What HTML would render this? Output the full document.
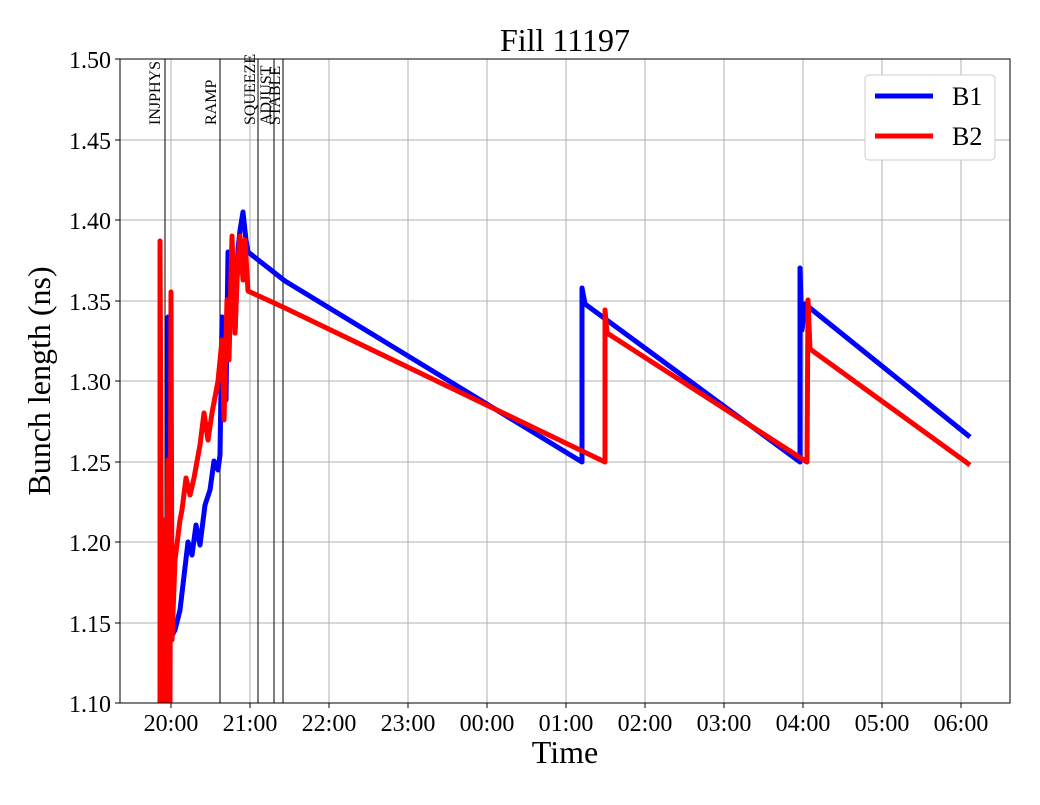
<!DOCTYPE html>
<html><head><style>body{margin:0;background:#fff}</style></head><body>
<svg width="1040" height="800" xmlns="http://www.w3.org/2000/svg" font-family="Liberation Serif, serif">
<rect width="1040" height="800" fill="#fff"/>
<g stroke="#b0b0b0" stroke-width="1">
<line x1="120" x2="1010" y1="140" y2="140"/><line x1="120" x2="1010" y1="220" y2="220"/><line x1="120" x2="1010" y1="301" y2="301"/><line x1="120" x2="1010" y1="381" y2="381"/><line x1="120" x2="1010" y1="462" y2="462"/><line x1="120" x2="1010" y1="542" y2="542"/><line x1="120" x2="1010" y1="623" y2="623"/>
<line x1="171" x2="171" y1="59" y2="703"/><line x1="250" x2="250" y1="59" y2="703"/><line x1="329" x2="329" y1="59" y2="703"/><line x1="408" x2="408" y1="59" y2="703"/><line x1="487" x2="487" y1="59" y2="703"/><line x1="566" x2="566" y1="59" y2="703"/><line x1="645" x2="645" y1="59" y2="703"/><line x1="724" x2="724" y1="59" y2="703"/><line x1="803" x2="803" y1="59" y2="703"/><line x1="882" x2="882" y1="59" y2="703"/><line x1="961" x2="961" y1="59" y2="703"/>
</g>
<g stroke="#000" stroke-width="1">
<line x1="165" x2="165" y1="59" y2="703"/><line x1="220" x2="220" y1="59" y2="703"/><line x1="258" x2="258" y1="59" y2="703"/><line x1="274" x2="274" y1="59" y2="703"/><line x1="283" x2="283" y1="59" y2="703"/>
</g>
<g font-size="16" fill="#000">
<text transform="translate(160,125) rotate(-90)">INJPHYS</text>
<text transform="translate(216,125) rotate(-90)">RAMP</text>
<text transform="translate(255,125) rotate(-90)">SQUEEZE</text>
<text transform="translate(271,125) rotate(-90)">ADJUST</text>
<text transform="translate(280,125) rotate(-90)">STABLE</text>
</g>
<svg x="120" y="59" width="890" height="644" viewBox="120 59 890 644" overflow="hidden">
<polyline fill="none" stroke="#00f" stroke-width="5" stroke-linejoin="round" points="167,703 168,317 169,703 170,639 175,630 180,610 188,542 192,555 196,525 200,545 205,505 210,490 214,461 218,470 220,455 222,317 224,330 226,400 228,252 231,300 233,260 235,333 238,250 240,230 243,212 246,240 248,252 285,281 582,462 582,288 585,304 800,462 800,268 802,330 805,304 970,437"/>
<polyline fill="none" stroke="#f00" stroke-width="5" stroke-linejoin="round" points="160,703 160,241 162,703 164,520 166,703 168,460 170,703 171,292 172,640 175,560 180,520 182,510 186,478 190,495 194,478 200,445 204,413 208,440 212,413 218,381 222,340 224,420 227,300 229,360 232,236 235,333 237,280 240,236 243,280 245,240 248,291 285,308 605,462 605,310 607,333 807,462 808,300 810,349 970,465"/>
</svg>
<rect x="120" y="59" width="890" height="644" fill="none" stroke="#000" stroke-width="1"/>
<g stroke="#000"><line x1="171" x2="171" y1="703" y2="708"/><line x1="250" x2="250" y1="703" y2="708"/><line x1="329" x2="329" y1="703" y2="708"/><line x1="408" x2="408" y1="703" y2="708"/><line x1="487" x2="487" y1="703" y2="708"/><line x1="566" x2="566" y1="703" y2="708"/><line x1="645" x2="645" y1="703" y2="708"/><line x1="724" x2="724" y1="703" y2="708"/><line x1="803" x2="803" y1="703" y2="708"/><line x1="882" x2="882" y1="703" y2="708"/><line x1="961" x2="961" y1="703" y2="708"/>
<line x1="115" x2="120" y1="59" y2="59"/><line x1="115" x2="120" y1="140" y2="140"/><line x1="115" x2="120" y1="220" y2="220"/><line x1="115" x2="120" y1="301" y2="301"/><line x1="115" x2="120" y1="381" y2="381"/><line x1="115" x2="120" y1="462" y2="462"/><line x1="115" x2="120" y1="542" y2="542"/><line x1="115" x2="120" y1="623" y2="623"/><line x1="115" x2="120" y1="703" y2="703"/></g>
<g font-size="24" text-anchor="end"><text x="111" y="68">1.50</text><text x="111" y="149">1.45</text><text x="111" y="229">1.40</text><text x="111" y="310">1.35</text><text x="111" y="390">1.30</text><text x="111" y="471">1.25</text><text x="111" y="551">1.20</text><text x="111" y="632">1.15</text><text x="111" y="712">1.10</text></g>
<g font-size="24" text-anchor="middle"><text x="171" y="731">20:00</text><text x="250" y="731">21:00</text><text x="329" y="731">22:00</text><text x="408" y="731">23:00</text><text x="487" y="731">00:00</text><text x="566" y="731">01:00</text><text x="645" y="731">02:00</text><text x="724" y="731">03:00</text><text x="803" y="731">04:00</text><text x="882" y="731">05:00</text><text x="961" y="731">06:00</text></g>
<text x="565" y="763" font-size="32" text-anchor="middle">Time</text>
<text transform="translate(50,381) rotate(-90)" font-size="32" text-anchor="middle">Bunch length (ns)</text>
<text x="565" y="51" font-size="32" text-anchor="middle">Fill 11197</text>
<rect x="865" y="75" width="130" height="85" rx="4" fill="#fff" stroke="#ccc"/>
<line x1="875" x2="933" y1="96" y2="96" stroke="#00f" stroke-width="5"/>
<line x1="875" x2="933" y1="136" y2="136" stroke="#f00" stroke-width="5"/>
<text x="952" y="105" font-size="26">B1</text><text x="952" y="145" font-size="26">B2</text>
</svg>
</body></html>
